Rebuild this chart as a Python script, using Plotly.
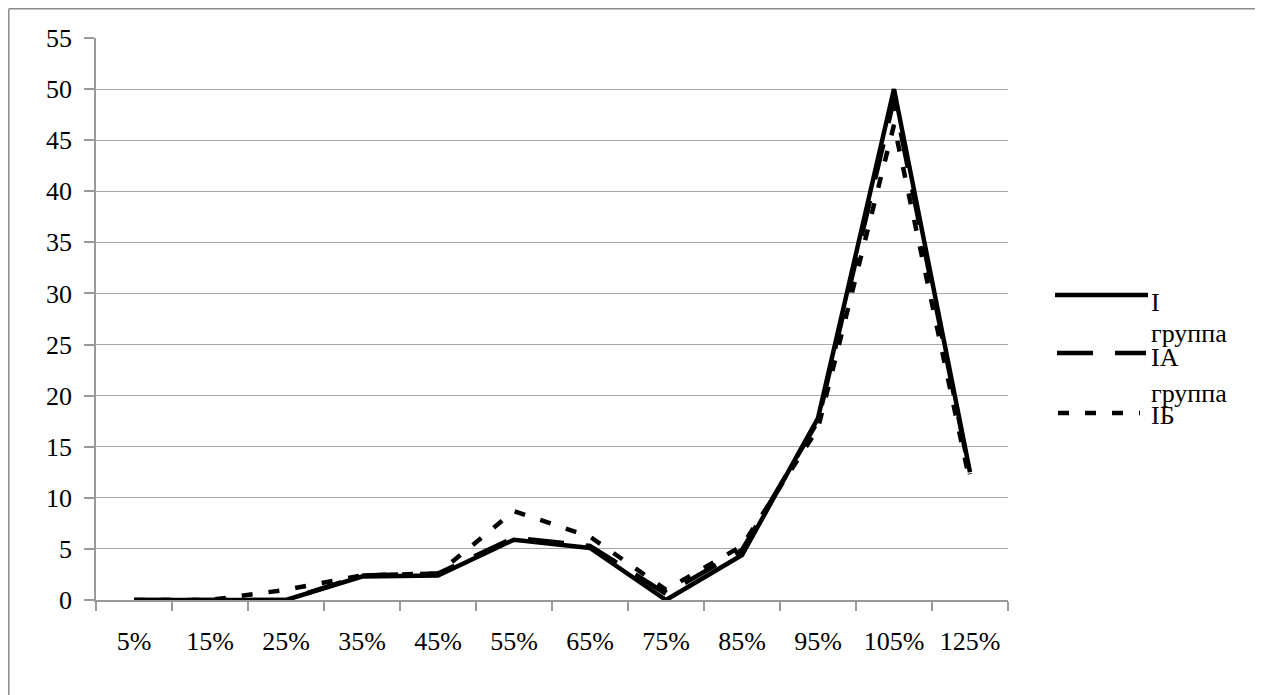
import plotly.graph_objects as go

categories = ["5%", "15%", "25%", "35%", "45%", "55%", "65%", "75%", "85%", "95%", "105%", "125%"]
group_I = [0, 0, 0, 2.3, 2.4, 5.9, 5.1, 0, 4.4, 17.8, 50, 12.5]
group_IA = [0, 0, 0, 2.4, 2.6, 6.1, 5.3, 0.6, 4.9, 17.5, 49, 12.3]
group_IB = [0, 0, 1.0, 2.4, 2.6, 8.7, 6.2, 1.0, 5.3, 16.8, 46.5, 11.5]
series_names = ["I группа", "IA группа", "IБ группа"]

OFF = 8  # page body margin
W, H = 1263 - OFF, 695 - OFF
L, T = 96 - OFF, 38 - OFF
PLOT_RIGHT, PLOT_BOTTOM = 1008 - OFF, 600 - OFF
R, B = W - PLOT_RIGHT, H - PLOT_BOTTOM
PW, PH = PLOT_RIGHT - L, PLOT_BOTTOM - T
FONT = "Liberation Serif, Times New Roman, serif"
GRAY = "#9a9a9a"


def px(x):
    return (x - OFF - L) / PW


def py(y):
    return (PLOT_BOTTOM - (y - OFF)) / PH


fig = go.Figure()
styles = [
    dict(color="black", width=4.5, dash="solid"),
    dict(color="black", width=4.5, dash="36px,22px"),
    dict(color="black", width=4.5, dash="11px,16px"),
]
for name, vals, st in zip(series_names, [group_I, group_IA, group_IB], styles):
    fig.add_trace(go.Scatter(x=categories, y=vals, mode="lines", name=name,
                             line=st, showlegend=False))

border = dict(color="#8a8a8a", width=1.5)
shapes = [
    dict(type="line", xref="paper", yref="paper", x0=px(8.8), x1=px(1270), y0=py(8.8), y1=py(8.8),
         line=border, layer="below"),
    dict(type="line", xref="paper", yref="paper", x0=px(8.8), x1=px(8.8), y0=py(8.8), y1=py(700),
         line=border, layer="below"),
]
annotations = []
legend_items = [
    (295, 1055, 1148, styles[0], [("I", 302), ("группа", 333)]),
    (353, 1057, 1146, styles[1], [("IA", 358), ("группа", 393)]),
    (413, 1058, 1140, styles[2], [("IБ", 415)]),
]
for ly, lx0, lx1, st, texts in legend_items:
    shapes.append(dict(type="line", xref="paper", yref="paper", x0=px(lx0), x1=px(lx1),
                       y0=py(ly), y1=py(ly), line=st))
    for t, ty in texts:
        annotations.append(dict(text=t, xref="paper", yref="paper", x=px(1149), y=py(ty),
                                xanchor="left", yanchor="middle", showarrow=False,
                                font=dict(family=FONT, size=26, color="black")))

fig.update_layout(
    width=W, height=H,
    margin=dict(l=L, r=R, t=T, b=B),
    paper_bgcolor="white", plot_bgcolor="white",
    font=dict(family=FONT, size=26, color="black"),
    shapes=shapes, annotations=annotations,
    showlegend=False,
)
fig.update_xaxes(
    type="category", range=[-0.5, 11.5], tickson="boundaries",
    ticks="outside", ticklen=9, tickcolor=GRAY, tickwidth=1.5,
    showline=True, linecolor=GRAY, linewidth=1.5, showgrid=False,
    ticklabelstandoff=17,
)
fig.update_yaxes(
    range=[0, 55], dtick=5, tick0=0,
    ticks="outside", ticklen=10, tickcolor=GRAY, tickwidth=1.5,
    showline=True, linecolor=GRAY, linewidth=1.5,
    showgrid=True, gridcolor="#a8a8a8", gridwidth=1.2, zeroline=False,
    ticklabelstandoff=7,
)

fig.write_html("out.html")
